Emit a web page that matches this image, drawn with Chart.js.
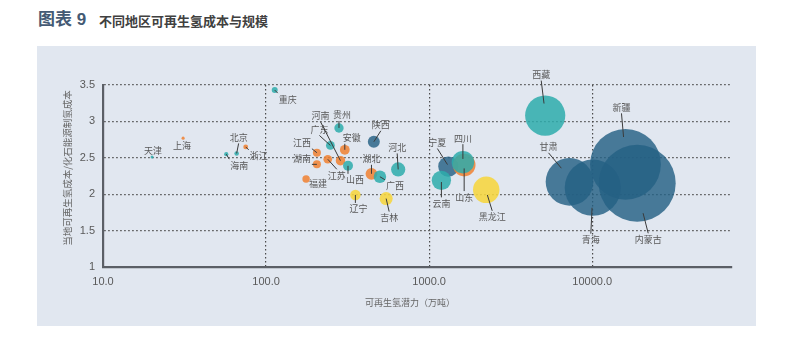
<!DOCTYPE html>
<html lang="zh-CN">
<head>
<meta charset="utf-8">
<title>不同地区可再生氢成本与规模</title>
<script src="https://cdn.jsdelivr.net/npm/chart.js@4/dist/chart.umd.min.js"></script>
<style>
  html, body { margin: 0; padding: 0; background: #fff; }
  body { width: 792px; height: 348px; position: relative; overflow: hidden;
         font-family: "Liberation Sans", "Noto Sans CJK SC", sans-serif; }
  .fig-no { position: absolute; left: 38px; top: 11px; font-size: 17px; line-height: 18px;
            font-weight: bold; color: #445a74; white-space: nowrap; }
  .fig-title { position: absolute; left: 99px; top: 14px; font-size: 13px; line-height: 14px;
               font-weight: bold; color: #404040; white-space: nowrap;
               font-family: "Noto Sans CJK SC", sans-serif; }
  .panel { position: absolute; left: 37px; top: 46px; width: 719px; height: 280px; background: #e1e7f0; }
  .y-title { position: absolute; left: -33px; top: 162px; width: 200px; text-align: center;
             font-size: 9.5px; line-height: 12px; color: #666;
             font-family: "Noto Sans CJK SC", sans-serif; transform: rotate(-90deg); }
  .x-title { position: absolute; left: 310px; top: 297px; width: 200px; text-align: center;
             font-size: 9px; line-height: 12px; color: #666;
             font-family: "Noto Sans CJK SC", sans-serif; }
  #wrap { position: absolute; left: 0; top: 0; width: 792px; height: 348px; }
</style>
</head>
<body>
<div class="fig-no">图表 9</div>
<div class="fig-title">不同地区可再生氢成本与规模</div>
<div class="panel"></div>
<div id="wrap"><canvas id="hydrogen-chart" width="792" height="348"></canvas></div>
<div class="y-title">当地可再生氢成本/化石能源制氢成本</div>
<div class="x-title">可再生氢潜力（万吨）</div>

<script>
// 各省份：可再生氢潜力（万吨）与 可再生氢成本/化石能源制氢成本
const provinces = ['天津', '上海', '海南', '北京', '浙江', '重庆', '福建', '江西', '湖南', '江苏',
                   '广东', '贵州', '河南', '安徽', '山西', '辽宁', '湖北', '陕西', '广西', '吉林',
                   '河北', '云南', '宁夏', '四川', '山东', '黑龙江', '西藏', '甘肃', '青海', '新疆', '内蒙古'];
const potential = [20, 31, 57, 66, 75, 113, 176, 205, 205, 239,
                   248, 280, 286, 304, 318, 353, 443, 458, 499, 545,
                   646, 1189, 1312, 1611, 1640, 2239, 5150, 7260, 10090, 16000, 18880];
const costRatio = [2.51, 2.77, 2.55, 2.56, 2.65, 3.43, 2.21, 2.57, 2.41, 2.48,
                   2.67, 2.91, 2.46, 2.61, 2.39, 1.99, 2.28, 2.72, 2.24, 1.94,
                   2.34, 2.19, 2.38, 2.44, 2.40, 2.06, 3.08, 2.17, 2.09, 2.41, 2.15];
const zone = ['绿', '橙', '绿', '绿', '橙', '绿', '橙', '橙', '橙', '橙',
              '绿', '绿', '橙', '橙', '绿', '黄', '橙', '蓝', '绿', '黄',
              '绿', '绿', '蓝', '绿', '橙', '黄', '绿', '蓝', '蓝', '蓝', '蓝'];
const xTicks = [10, 100, 1000, 10000];
const yTicks = [1, 1.5, 2, 2.5, 3, 3.5];

// 分组颜色与绘制层次（order 小的画在上层）
const zoneStyle = {
  '绿': { color: 'rgba(45, 172, 172, 0.85)', order: 0 },
  '黄': { color: 'rgba(246, 214, 62, 0.88)', order: 1 },
  '橙': { color: 'rgba(240, 128, 48, 0.85)', order: 2 },
  '蓝': { color: 'rgba(36, 96, 132, 0.82)', order: 3 }
};

// 数据标签相对气泡中心的偏移（像素）
const labelOffsets = {
  '重庆': [13, 9], '上海': [-1, 7], '天津': [1, -6], '北京': [2, -16], '海南': [13, 11],
  '浙江': [13, 9], '贵州': [3, -13], '河南': [-20, -45], '广东': [-11, -16], '安徽': [7, -12],
  '陕西': [7, -17], '江西': [-15, -10], '湖南': [-15, -6], '江苏': [9, 16], '山西': [7, 14],
  '福建': [12, 5], '湖北': [0, -15], '广西': [15, 9], '河北': [-1, -22], '辽宁': [3, 14],
  '吉林': [3, 19], '西藏': [-4, -41], '宁夏': [-11, -24], '四川': [0, -24], '山东': [0, 32],
  '云南': [0, 23], '黑龙江': [6, 27], '甘肃': [-21, -35], '青海': [-2, 52], '新疆': [-4, -57],
  '内蒙古': [11, 56]
};

// 气泡面积与潜力成正比
const bubbleRadius = v => Math.max(1.5, 0.28 * Math.sqrt(v));

const datasets = Object.keys(zoneStyle).map(z => ({
  label: z,
  order: zoneStyle[z].order,
  backgroundColor: zoneStyle[z].color,
  borderWidth: 0,
  data: provinces
    .map((p, i) => ({ name: p, x: potential[i], y: costRatio[i], r: bubbleRadius(potential[i]), z: zone[i] }))
    .filter(d => d.z === z)
}));

// 省份名称与引导线
const regionLabels = {
  id: 'regionLabels',
  afterDatasetsDraw(chart) {
    const ctx = chart.ctx;
    ctx.save();
    ctx.font = '9px "Noto Sans CJK SC", sans-serif';
    ctx.textAlign = 'center';
    ctx.textBaseline = 'middle';
    chart.data.datasets.forEach((ds, di) => {
      chart.getDatasetMeta(di).data.forEach((pt, i) => {
        const name = ds.data[i].name;
        const [dx, dy] = labelOffsets[name] || [0, -12];
        const lx = pt.x + dx, ly = pt.y + dy;
        const hw = ctx.measureText(name).width / 2 + 1, hh = 6;
        const len = Math.hypot(dx, dy) || 1;
        const d = Math.max(0, pt.options.radius - 8);
        const ex = pt.x + dx / len * d, ey = pt.y + dy / len * d;
        let sx, sy;
        if (Math.abs(dy) > 14) {
          // 标签在上下方：引导线从文字上/下边缘中部引出
          sx = lx;
          sy = dy < 0 ? ly + hh : ly - hh;
        } else {
          sx = Math.min(Math.max(ex, lx - hw), lx + hw);
          sy = Math.min(Math.max(ey, ly - hh), ly + hh);
        }
        if (Math.hypot(ex - sx, ey - sy) > 3) {
          ctx.strokeStyle = '#3a3a3a';
          ctx.lineWidth = 1;
          ctx.beginPath();
          ctx.moveTo(sx, sy);
          ctx.lineTo(ex, ey);
          ctx.stroke();
        }
        ctx.fillStyle = '#595959';
        ctx.fillText(name, lx, ly);
      });
    });
    ctx.restore();
  }
};

const gridColor = (skip) => (c) => (c.tick && c.tick.value === skip ? 'rgba(0,0,0,0)' : '#4a4a4a');

new Chart(document.getElementById('hydrogen-chart'), {
  type: 'bubble',
  data: { datasets },
  plugins: [regionLabels],
  options: {
    responsive: false,
    animation: false,
    events: [],
    layout: { padding: { left: 37, top: 85, right: 60, bottom: 41 } },
    plugins: { legend: { display: false }, tooltip: { enabled: false } },
    scales: {
      x: {
        type: 'logarithmic',
        min: 10,
        max: 72000,
        afterBuildTicks: s => { s.ticks = xTicks.map(v => ({ value: v })); },
        afterFit: s => { s.height = 40; },
        grid: { color: gridColor(10), lineWidth: 1.2, drawTicks: false },
        border: { display: true, color: '#5b5f66', width: 2.2, dash: [1.5, 2.5] },
        ticks: {
          padding: 8,
          color: '#595959',
          font: { size: 11, family: '"Liberation Sans", sans-serif' },
          maxRotation: 0,
          autoSkip: false,
          callback: v => Number(v).toFixed(1)
        }
      },
      y: {
        min: 1,
        max: 3.5,
        afterBuildTicks: s => { s.ticks = yTicks.map(v => ({ value: v })); },
        afterFit: s => { s.width = 66; },
        grid: { color: gridColor(1), lineWidth: 1.2, drawTicks: false },
        border: { display: true, color: '#5b5f66', width: 2.2, dash: [1.5, 2.5] },
        ticks: {
          padding: 8,
          color: '#595959',
          font: { size: 11, family: '"Liberation Sans", sans-serif' },
          callback: v => String(v)
        }
      }
    }
  }
});
</script>
</body>
</html>
